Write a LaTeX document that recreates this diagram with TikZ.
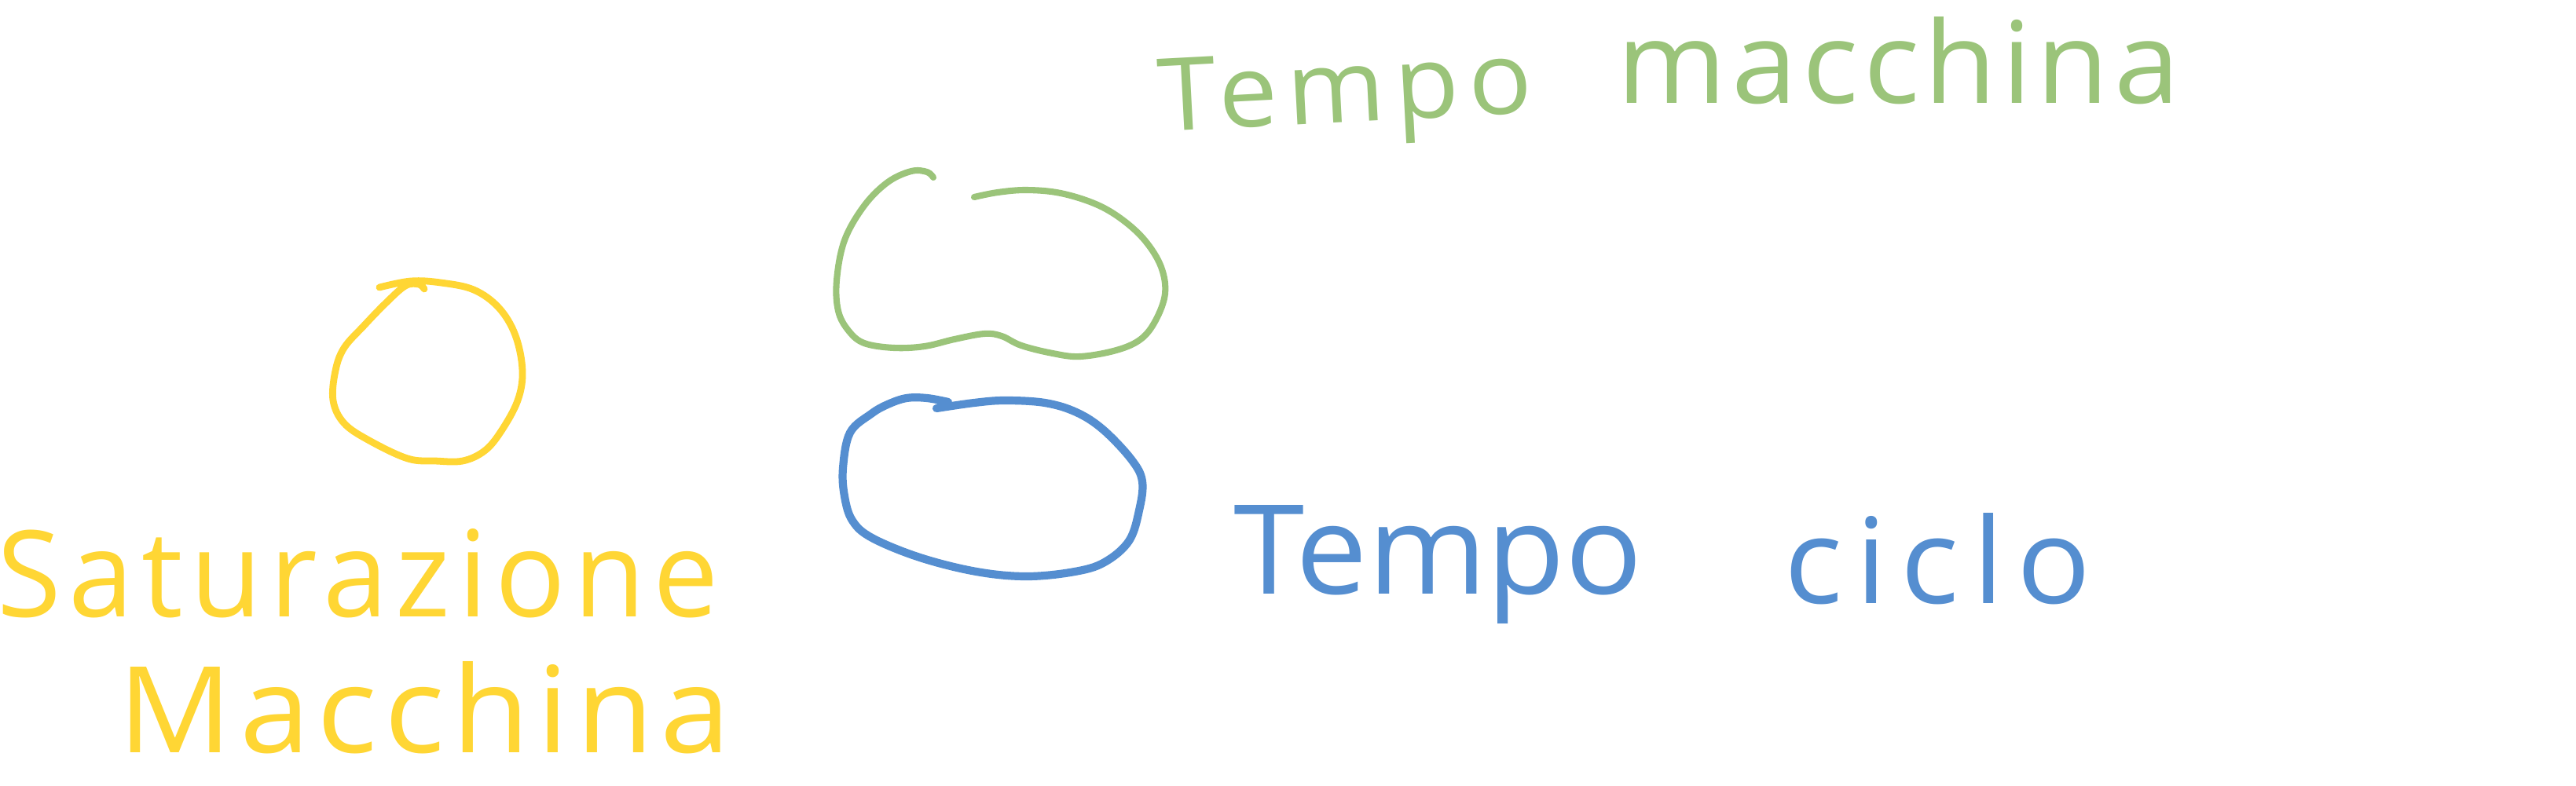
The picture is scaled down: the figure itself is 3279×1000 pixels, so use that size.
\documentclass[tikz,border=0pt]{standalone}
\usepackage{fontspec}
\setmainfont{Open Sans}
\definecolor{ylw}{HTML}{FFD634}
\definecolor{grn}{HTML}{9BC47A}
\definecolor{blu}{HTML}{558ED0}
% \handword{width px}{height px}{font pt}{letterspace}{text}
\newcommand{\handword}[5]{\resizebox{#1\dimexpr0.01cm\relax}{#2\dimexpr0.01cm\relax}{\fontsize{#3}{#3}\selectfont\addfontfeature{LetterSpace=#4}#5}}
\begin{document}
\begin{tikzpicture}[x=0.01cm,y=-0.01cm,
  blob/.style={line cap=round,line join=round},
  word/.style={inner sep=0pt,anchor=base west},
  ytext/.style={word,text=ylw},
  gtext/.style={word,text=grn},
  btext/.style={word,text=blu}]
\useasboundingbox (0,0) rectangle (3279,1000);
\fill[white] (0,0) rectangle (3279,1000);

% yellow blob
\draw[blob,ylw,line width=2.5pt] plot[smooth,tension=0.6] coordinates {
 (483,366) (523,358) (561,360) (603,369) (635,392) (656,427) (665,472) (659,510)
 (638,549) (617,574) (589,587) (554,587) (519,584) (470,561) (438,539) (424,510)
 (427,472) (438,443) (463,415) (491,386) (516,364) (533,362) (540,368)};

% green blob
\draw[blob,grn,line width=2.3pt] plot[smooth,tension=0.6] coordinates {
 (1188,226) (1180,219) (1160,218) (1130,232) (1100,262) (1075,306) (1065,357)
 (1067,396) (1080,421) (1100,437) (1138,443) (1177,441) (1215,432) (1253,425)
 (1275,428) (1300,440) (1340,450) (1375,454) (1421,446) (1452,432) (1471,408)
 (1483,374) (1478,340) (1458,307) (1429,280) (1395,260) (1350,246) (1307,242)
 (1270,245) (1240,251)};

% blue blob
\draw[blob,blu,line width=2.9pt] plot[smooth,tension=0.6] coordinates {
 (1207,512) (1180,507) (1154,507) (1130,515) (1109,527) (1082,551) (1073,596)
 (1075,632) (1085,663) (1110,685) (1171,710) (1243,728) (1307,734) (1368,728)
 (1406,716) (1437,689) (1450,650) (1454,613) (1440,585) (1404,547) (1370,525)
 (1330,513) (1279,510) (1240,513) (1192,520)};

% yellow text
\node[ytext] (sat) at (-4,785) {\handword{918}{112}{41}{6.6}{Saturazione}};
\node[ytext] (mac) at (150,958) {\handword{780}{116}{45}{5.6}{Macchina}};

% green text
\node[gtext,rotate=3] (gtempo) at (1476,168) {\handword{476}{92}{36}{9}{Tempo}};
\node[gtext] (gmac) at (2058,131) {\handword{716}{110}{42}{4.4}{macchina}};

% blue text
\node[btext] (btempo) at (1570,756) {\handword{520}{113}{45}{0}{Tempo}};
\node[btext] (bciclo) at (2271,768) {\handword{390}{115}{42}{11}{ciclo}};
\end{tikzpicture}
\end{document}
